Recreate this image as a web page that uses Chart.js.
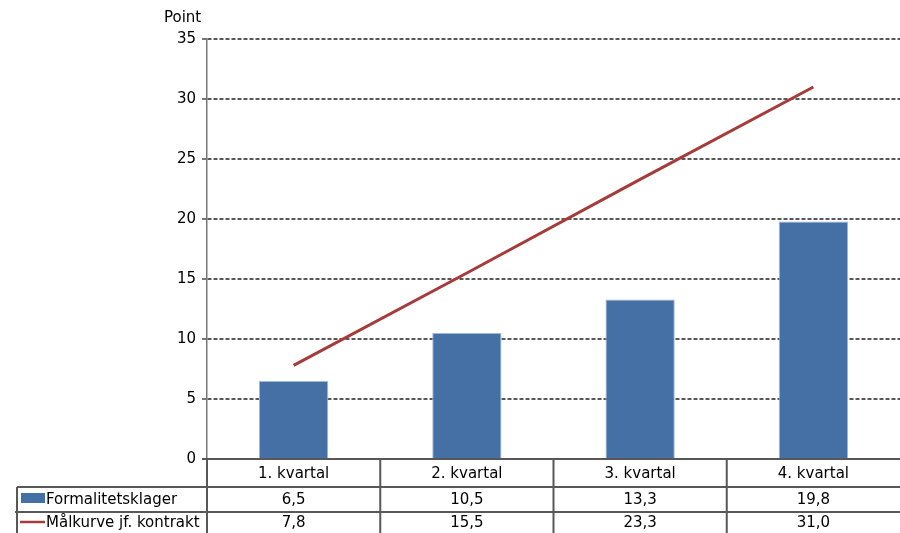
<!DOCTYPE html>
<html>
<head>
<meta charset="utf-8">
<script src="https://cdn.jsdelivr.net/npm/chart.js@4"></script>
<style>
  html, body { margin: 0; padding: 0; background: #fff; }
  #wrap { width: 900px; height: 533px; }
</style>
</head>
<body>
<div id="wrap"><canvas id="chart" width="900" height="533"></canvas></div>
<script>
const quarters = ['1. kvartal', '2. kvartal', '3. kvartal', '4. kvartal'];
const klager = [6.5, 10.5, 13.3, 19.8];
const maalkurve = [7.8, 15.5, 23.3, 31.0];
const seriesNames = ['Formalitetsklager', 'Målkurve jf. kontrakt'];

const FONT = 'DejaVu Sans, Verdana, sans-serif';
const BLUE = '#4570A6';
const RED = '#A63C3A';
const GRID = '#585858';

function fmt(v) {
  return v.toFixed(1).replace('.', ',');
}

// unit label above the y axis + data table under the plot
const tablePlugin = {
  id: 'dataTable',
  afterDraw(chart) {
    const ctx = chart.ctx;
    const x = chart.scales.x;
    const area = chart.chartArea;
    const step = x.getPixelForValue(1) - x.getPixelForValue(0);
    const legendLeft = 17;
    const rows = [area.bottom, area.bottom + 28, area.bottom + 53, area.bottom + 80];

    ctx.save();
    ctx.fillStyle = '#000';
    ctx.font = '15px ' + FONT;
    ctx.textAlign = 'left';
    ctx.textBaseline = 'middle';
    ctx.fillText('Point', 164, 18);

    ctx.strokeStyle = GRID;
    ctx.lineWidth = 2;
    ctx.beginPath();
    // horizontal lines
    ctx.moveTo(area.left - 5, rows[0]); ctx.lineTo(area.right, rows[0]);
    ctx.moveTo(legendLeft, rows[1]); ctx.lineTo(area.right, rows[1]);
    ctx.moveTo(legendLeft - 2, rows[2]); ctx.lineTo(area.right, rows[2]);
    // vertical lines (no closing line on the right)
    ctx.moveTo(legendLeft, rows[1]); ctx.lineTo(legendLeft, rows[3]);
    for (let i = 0; i < quarters.length; i++) {
      const bx = x.getPixelForValue(i) - step / 2;
      ctx.moveTo(bx, rows[0]); ctx.lineTo(bx, rows[3]);
    }
    ctx.stroke();

    ctx.textAlign = 'center';
    quarters.forEach((q, i) => {
      const cx = x.getPixelForValue(i);
      ctx.fillText(q, cx, (rows[0] + rows[1]) / 2 + 1);
      ctx.fillText(fmt(klager[i]), cx, (rows[1] + rows[2]) / 2 + 1);
      ctx.fillText(fmt(maalkurve[i]), cx, (rows[2] + rows[3]) / 2 - 2);
    });

    // legend keys
    ctx.fillStyle = BLUE;
    ctx.fillRect(21, rows[1] + 6, 24, 10);
    ctx.strokeStyle = RED;
    ctx.lineWidth = 2.5;
    ctx.beginPath();
    ctx.moveTo(20, rows[2] + 10); ctx.lineTo(45, rows[2] + 10);
    ctx.stroke();

    ctx.fillStyle = '#000';
    ctx.textAlign = 'left';
    ctx.fillText(seriesNames[0], 46, (rows[1] + rows[2]) / 2 + 1);
    ctx.fillText(seriesNames[1], 46, (rows[2] + rows[3]) / 2 - 2);
    ctx.restore();
  }
};

new Chart(document.getElementById('chart'), {
  type: 'bar',
  data: {
    labels: quarters,
    datasets: [
      {
        type: 'line',
        label: seriesNames[1],
        data: maalkurve,
        borderColor: RED,
        borderWidth: 3,
        pointRadius: 0,
        tension: 0,
        order: 0
      },
      {
        label: seriesNames[0],
        data: klager,
        backgroundColor: BLUE,
        borderColor: '#a3b9d6',
        borderWidth: 1,
        barPercentage: 0.4,
        categoryPercentage: 1,
        order: 1
      }
    ]
  },
  options: {
    responsive: false,
    animation: false,
    layout: { padding: { top: 39, bottom: 74, right: 0, left: 0 } },
    plugins: {
      legend: { display: false },
      tooltip: { enabled: false }
    },
    scales: {
      x: {
        display: false,
        offset: true
      },
      y: {
        min: 0,
        max: 35,
        afterFit(scale) { scale.width = 207; },
        ticks: {
          stepSize: 5,
          color: '#000',
          padding: 6,
          font: { family: FONT, size: 15 }
        },
        grid: {
          color: GRID,
          lineWidth: 2,
          tickLength: 5,
          tickBorderDash: [],
          tickColor: '#777'
        },
        border: {
          display: true,
          color: '#777',
          width: 1.5,
          dash: [4, 2]
        }
      }
    }
  },
  plugins: [tablePlugin]
});
</script>
</body>
</html>
